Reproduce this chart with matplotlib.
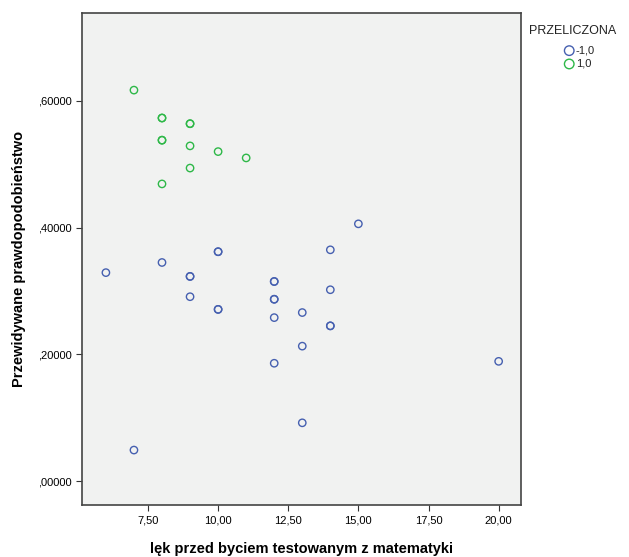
import matplotlib.pyplot as plt
from matplotlib.ticker import FuncFormatter

# anxiety score (x) and predicted probability (y) per group
blue_x = [6, 7, 8, 9, 9, 9, 10, 10, 10, 10, 12, 12, 12, 12, 12, 12, 13, 13, 13, 14, 14, 14, 14, 15, 20]
blue_y = [0.329, 0.049, 0.345, 0.323, 0.323, 0.291, 0.362, 0.362, 0.271, 0.271,
          0.315, 0.315, 0.287, 0.287, 0.258, 0.186, 0.266, 0.213, 0.092,
          0.365, 0.302, 0.245, 0.245, 0.406, 0.189]
green_x = [7, 8, 8, 8, 8, 8, 9, 9, 9, 9, 10, 11]
green_y = [0.617, 0.573, 0.573, 0.538, 0.538, 0.469, 0.564, 0.564, 0.529, 0.494, 0.520, 0.510]

group_labels = ['-1,0', '1,0']
x_ticks = [7.5, 10, 12.5, 15, 17.5, 20]
y_ticks = [0.0, 0.2, 0.4, 0.6]

plt.rcParams['font.family'] = ['Liberation Sans', 'DejaVu Sans']

fig = plt.figure(figsize=(6.29, 5.57), dpi=100)
ax = fig.add_axes([0.130, 0.093, 0.698, 0.884])
ax.set_facecolor('#f1f2f1')

ax.scatter(blue_x, blue_y, s=28, facecolors='none', edgecolors='#4660b0',
           linewidths=1.0, label=group_labels[0])
ax.scatter(green_x, green_y, s=28, facecolors='none', edgecolors='#2eb848',
           linewidths=1.0, label=group_labels[1])

ax.set_xlim(5.14, 20.79)
ax.set_ylim(-0.038, 0.739)
ax.set_xticks(x_ticks)
ax.set_yticks(y_ticks)
ax.xaxis.set_major_formatter(FuncFormatter(lambda v, p: f'{v:.2f}'.replace('.', ',')))
ax.yaxis.set_major_formatter(FuncFormatter(lambda v, p: f'{v:.5f}'.replace('0.', ',', 1)))
ax.tick_params(labelsize=8, length=4, width=0.8, color='#333333')

for s in ax.spines.values():
    s.set_color('#444444')
    s.set_linewidth(1.2)

ax.set_xlabel('lęk przed byciem testowanym z matematyki', fontsize=10.5,
              fontweight='bold', labelpad=12)
ax.set_ylabel('Przewidywane prawdopodobieństwo', fontsize=10.5,
              fontweight='bold', labelpad=8)

# legend: title as separate text, entries indented below it
fig.text(529 / 629, 1 - 31 / 557, 'PRZELICZONA', fontsize=9, va='center', ha='left',
         color='#222222')
leg = ax.legend(loc='upper left', bbox_to_anchor=(557 / 629, 1 - 40 / 557),
                bbox_transform=fig.transFigure, frameon=False, fontsize=8,
                handletextpad=0.0, labelspacing=0.3, borderpad=0,
                handlelength=1.2, markerscale=1.3)
for t in leg.get_texts():
    t.set_color('#222222')

plt.savefig('out.png', dpi=100)
